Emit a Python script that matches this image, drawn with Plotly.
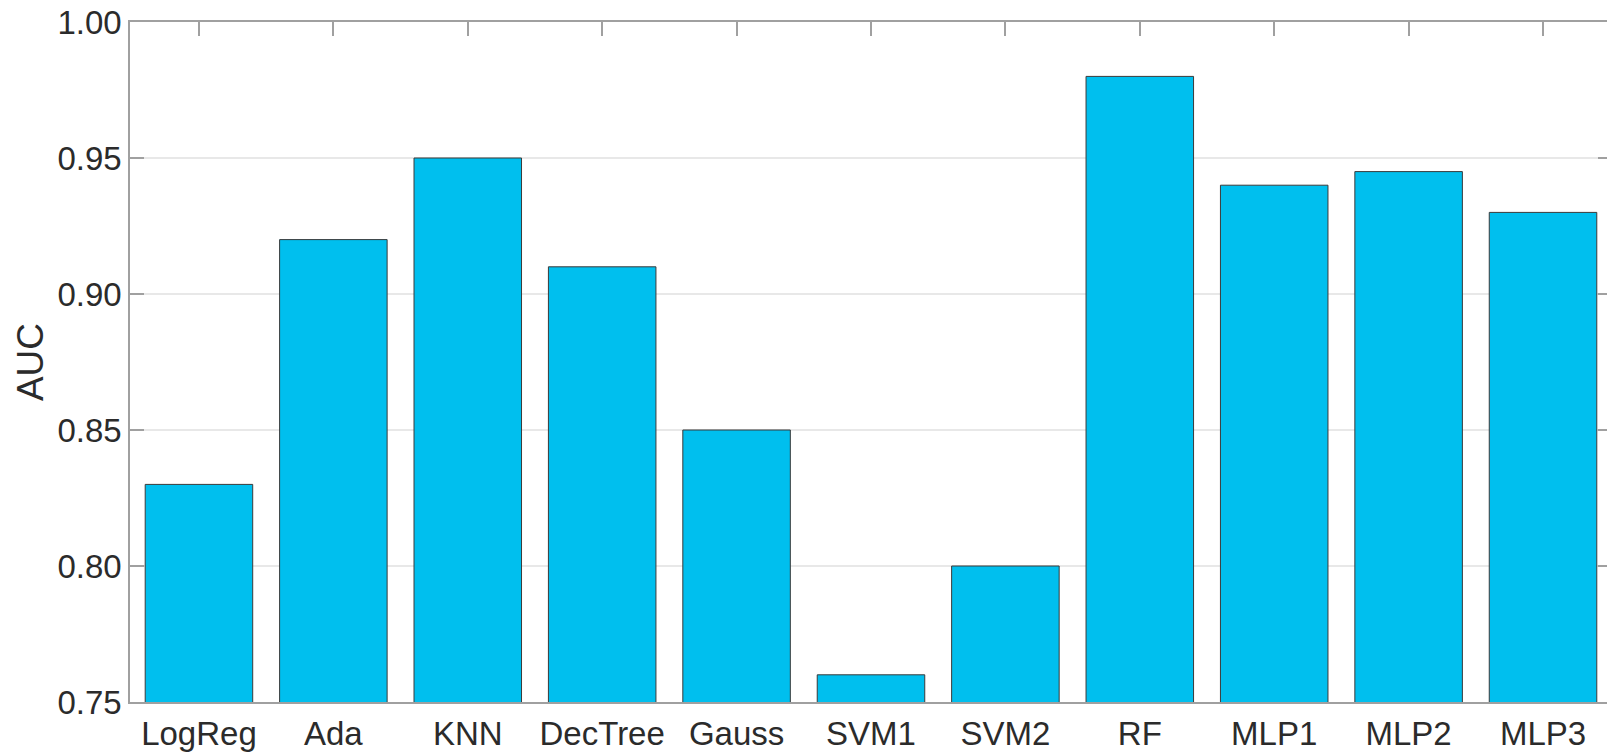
import plotly.graph_objects as go

categories = ["LogReg", "Ada", "KNN", "DecTree", "Gauss", "SVM1", "SVM2", "RF", "MLP1", "MLP2", "MLP3"]
auc_values = [0.83, 0.92, 0.95, 0.91, 0.85, 0.76, 0.80, 0.98, 0.94, 0.945, 0.93]
y_ticks = [0.75, 0.80, 0.85, 0.90, 0.95, 1.00]
y_tick_labels = ["0.75", "0.80", "0.85", "0.90", "0.95", "1.00"]

FONT = "Liberation Sans, Arial, sans-serif"
TEXT = "#2b2b2b"
AXIS = "#a0a0a0"

fig = go.Figure()
fig.add_trace(go.Bar(
    x=categories, y=auc_values, width=0.8,
    marker=dict(color="#00bfee", line=dict(color="#3a3a3a", width=1)),
    hoverinfo="x+y",
))
# invisible companion to anchor the right-hand tick axis
fig.add_trace(go.Scatter(
    x=categories, y=auc_values, yaxis="y2", mode="markers",
    marker=dict(opacity=0), hoverinfo="skip", showlegend=False,
))

fig.update_layout(
    width=1607, height=756,
    margin=dict(l=130, r=0, t=22, b=54),
    paper_bgcolor="white", plot_bgcolor="white",
    showlegend=False,
    font=dict(family=FONT, size=33, color=TEXT),
    xaxis=dict(
        type="category",
        categoryorder="array", categoryarray=categories,
        range=[-0.513, 10.476],
        showline=True, linecolor=AXIS, linewidth=1.5, mirror="ticks",
        ticks="inside", ticklen=14, tickcolor=AXIS, tickwidth=1.5,
        showgrid=False, layer="below traces",
        ticklabelstandoff=2,
        tickfont=dict(family=FONT, size=33, color=TEXT),
    ),
    yaxis=dict(
        range=[0.75, 1.0],
        tickvals=y_ticks, ticktext=y_tick_labels,
        showline=True, linecolor=AXIS, linewidth=1.5, mirror=False,
        ticks="inside", ticklen=14, tickcolor=AXIS, tickwidth=1.5,
        showgrid=True, gridcolor="#e8e8e8", gridwidth=1.5,
        zeroline=False, layer="below traces",
        tickfont=dict(family=FONT, size=33, color=TEXT),
        title=dict(text="AUC", font=dict(family=FONT, size=37, color=TEXT), standoff=2),
    ),
    yaxis2=dict(
        overlaying="y", side="right", anchor="x",
        range=[0.75, 1.0], tickvals=y_ticks,
        showticklabels=False, showline=False, showgrid=False, zeroline=False,
        ticks="inside", ticklen=9, tickcolor=AXIS, tickwidth=1.5,
        layer="below traces",
    ),
)

fig.write_html(
    "out.html",
    config={"displayModeBar": False},
    post_script="document.body.style.margin='0';document.body.style.overflow='hidden';",
)
